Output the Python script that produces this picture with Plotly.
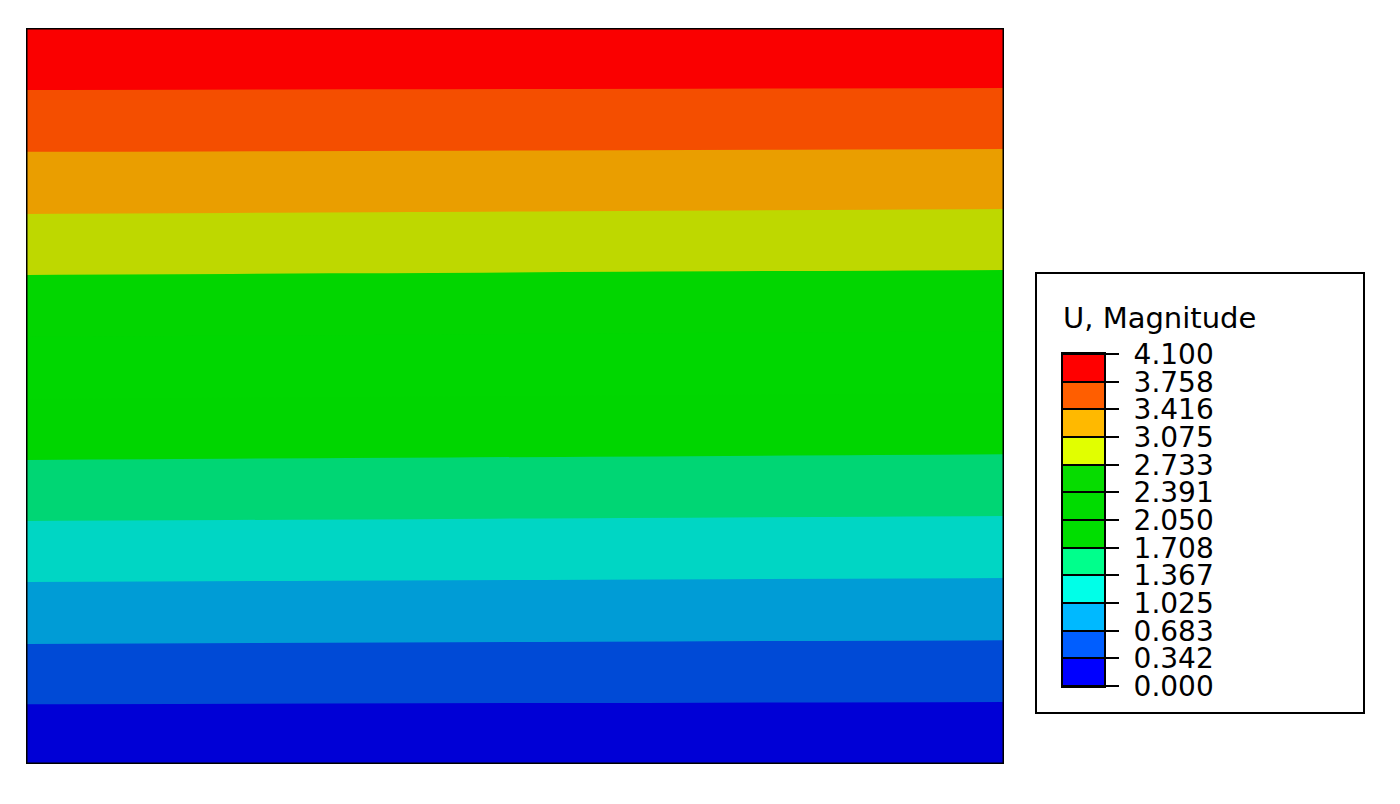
import plotly.graph_objects as go

# contour levels of U, Magnitude (legend values)
levels = [0.000, 0.342, 0.683, 1.025, 1.367, 1.708, 2.050, 2.391, 2.733, 3.075, 3.416, 3.758, 4.100]

# colours of the bands in the model view (shaded) and in the legend
band_colors = ['rgb(0,0,214)', 'rgb(0,74,214)', 'rgb(0,156,214)', 'rgb(0,214,196)',
               'rgb(0,214,116)', 'rgb(0,214,0)', 'rgb(0,215,0)', 'rgb(2,214,0)',
               'rgb(190,216,0)', 'rgb(234,158,0)', 'rgb(244,78,0)', 'rgb(250,0,0)']
legend_colors = ['rgb(0,0,255)', 'rgb(0,94,255)', 'rgb(0,185,255)', 'rgb(0,255,232)',
                 'rgb(0,255,140)', 'rgb(0,222,0)', 'rgb(0,220,0)', 'rgb(6,220,0)',
                 'rgb(225,255,0)', 'rgb(255,185,0)', 'rgb(255,94,0)', 'rgb(255,0,0)']

# nodal values along the left and right edges of the part
x_nodes = [0, 40]
y_nodes = [0, 2.5, 5, 7.5, 10, 12.5, 15, 17.5, 20, 22.5, 25, 27.5, 30]
u_left = [0.000, 0.350, 0.698, 1.036, 1.380, 1.723, 2.067, 2.404, 2.742, 3.086, 3.423, 3.762, 4.100]
u_right = [0.000, 0.338, 0.677, 1.014, 1.352, 1.691, 2.033, 2.372, 2.714, 3.058, 3.407, 3.751, 4.094]

W, H = 1400, 804
OFF = 8  # page margin of the html body


def px(x):
    return (x - OFF) / W


def py(y):
    return 1 - (y - OFF) / H


def stepped(colors):
    n = len(colors)
    scale = []
    for i, c in enumerate(colors):
        scale.append([i / n, c])
        scale.append([(i + 1) / n, c])
    return scale


z = [[a, b] for a, b in zip(u_left, u_right)]
umin, umax = levels[0], levels[-1]

fig = go.Figure()

fig.add_trace(go.Contour(
    x=x_nodes, y=y_nodes, z=z,
    zmin=umin, zmax=umax,
    autocontour=False,
    contours=dict(start=umin, end=umax, size=(umax - umin) / (len(levels) - 1),
                  coloring='fill', showlines=False),
    colorscale=stepped(band_colors),
    line=dict(width=0),
    showscale=False,
    hoverinfo='skip',
    xaxis='x', yaxis='y'
))

# legend bar
fig.add_trace(go.Heatmap(
    x=[0, 1], y=levels,
    z=[[i] for i in range(len(legend_colors))],
    zmin=-0.5, zmax=len(legend_colors) - 0.5,
    colorscale=stepped(legend_colors),
    ygap=2,
    showscale=False,
    hoverinfo='skip',
    xaxis='x2', yaxis='y2'
))

fig.update_layout(
    width=W, height=H,
    margin=dict(l=0, r=0, t=0, b=0, autoexpand=False),
    paper_bgcolor='white',
    plot_bgcolor='black',
    showlegend=False,
    font=dict(family='DejaVu Sans', color='black'),
    xaxis=dict(domain=[px(26), px(1004)], range=[x_nodes[0], x_nodes[-1]],
               visible=False, fixedrange=True),
    yaxis=dict(domain=[py(764), py(28)], range=[y_nodes[0], y_nodes[-1]],
               visible=False, fixedrange=True),
    xaxis2=dict(domain=[px(1063), px(1104)], range=[0, 1], anchor='y2',
                showticklabels=False, ticks='', showgrid=False, zeroline=False,
                showline=True, mirror=True, linecolor='black', linewidth=2),
    yaxis2=dict(domain=[py(686), py(354)], range=[umin, umax], anchor='x2',
                side='right', tickvals=levels, ticktext=['%.3f' % v for v in levels],
                ticks='outside', ticklen=13, tickwidth=2, tickcolor='black',
                ticklabelstandoff=9, automargin=False,
                tickfont=dict(size=28, family='DejaVu Sans', color='black'),
                showgrid=False, zeroline=False,
                showline=True, mirror=True, linecolor='black', linewidth=2),
)

# outline of the part
fig.add_shape(type='rect', xref='x', yref='y',
              x0=x_nodes[0], x1=x_nodes[-1], y0=y_nodes[0], y1=y_nodes[-1],
              line=dict(color='black', width=3))

# legend frame and title
fig.add_shape(type='rect', xref='paper', yref='paper',
              x0=px(1036), x1=px(1364), y0=py(713), y1=py(273),
              line=dict(color='black', width=2))
fig.add_annotation(text='U, Magnitude', xref='paper', yref='paper',
                   x=px(1061), y=py(318), xanchor='left', yanchor='middle',
                   showarrow=False, font=dict(size=29, family='DejaVu Sans', color='black'))

fig.write_html('out.html')
